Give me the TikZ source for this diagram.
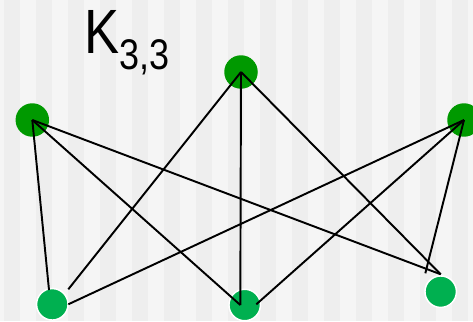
\documentclass[tikz,border=0pt]{standalone}
\usepackage{fontspec}
\setmainfont{Liberation Sans}
\usetikzlibrary{shapes}

\definecolor{stripedark}{HTML}{EEEEEE}
\definecolor{stripelight}{HTML}{F5F5F5}
\definecolor{topgreen}{HTML}{009900}
\definecolor{botgreen}{HTML}{00B050}

\begin{document}
\begin{tikzpicture}[x=0.02cm,y=-0.02cm]

                \tikzset{tvertex/.style = {shape=circle,fill=topgreen,inner sep=0pt,minimum size=0.67cm}}
                \tikzset{bvertex/.style = {shape=circle,fill=botgreen,draw=white,line width=0.85pt,inner sep=0pt,minimum size=0.63cm}}
                \tikzset{edge/.style = {line width=1.1pt,black}}

                \useasboundingbox (0,0) rectangle (473,321);
                \clip (0,0) rectangle (473,321);

                % striped background
                \fill[stripelight] (0,0) rectangle (473,321);
                \foreach \k in {0,...,14}
                    \fill[stripedark] (4+32*\k,0) rectangle (20+32*\k,321);

                \node[anchor=base west,inner sep=0pt,xscale=0.84,font=\fontsize{35.6pt}{40pt}\selectfont] (title) at (84,53)
                    {K\raisebox{-9.6pt}{\fontsize{24.4pt}{28pt}\selectfont 3,3}};

                \node[tvertex] (a1) at (32.3,120) {};
                \node[tvertex] (a2) at (241,72) {};
                \node[tvertex] (a3) at (464,120) {};
                \node[bvertex] (b1) at (52.3,304.3) {};
                \node[bvertex] (b2) at (244.7,305) {};
                \node[bvertex] (b3) at (440.7,291.7) {};

                % where the edges stop
                \coordinate (b1t) at (49,290);
                \coordinate (b1c) at (68.3,289.3);
                \coordinate (b1r) at (68.3,304.3);
                \coordinate (b2c) at (240.3,305);
                \coordinate (b2r) at (256.3,304.3);
                \coordinate (b3t) at (440.7,274.3);
                \coordinate (b3l) at (425.3,273.3);

                \draw[edge] (a1.center) -- (b1t);
                \draw[edge] (a1.center) -- (b2c);
                \draw[edge] (a1.center) -- (b3t);
                \draw[edge] (a2.center) -- (b1c);
                \draw[edge] (a2.center) -- (b2c);
                \draw[edge] (a2.center) -- (b3t);
                \draw[edge] (a3.center) -- (b1r);
                \draw[edge] (a3.center) -- (b2r);
                \draw[edge] (a3.center) -- (b3l);

        \end{tikzpicture}
\end{document}
